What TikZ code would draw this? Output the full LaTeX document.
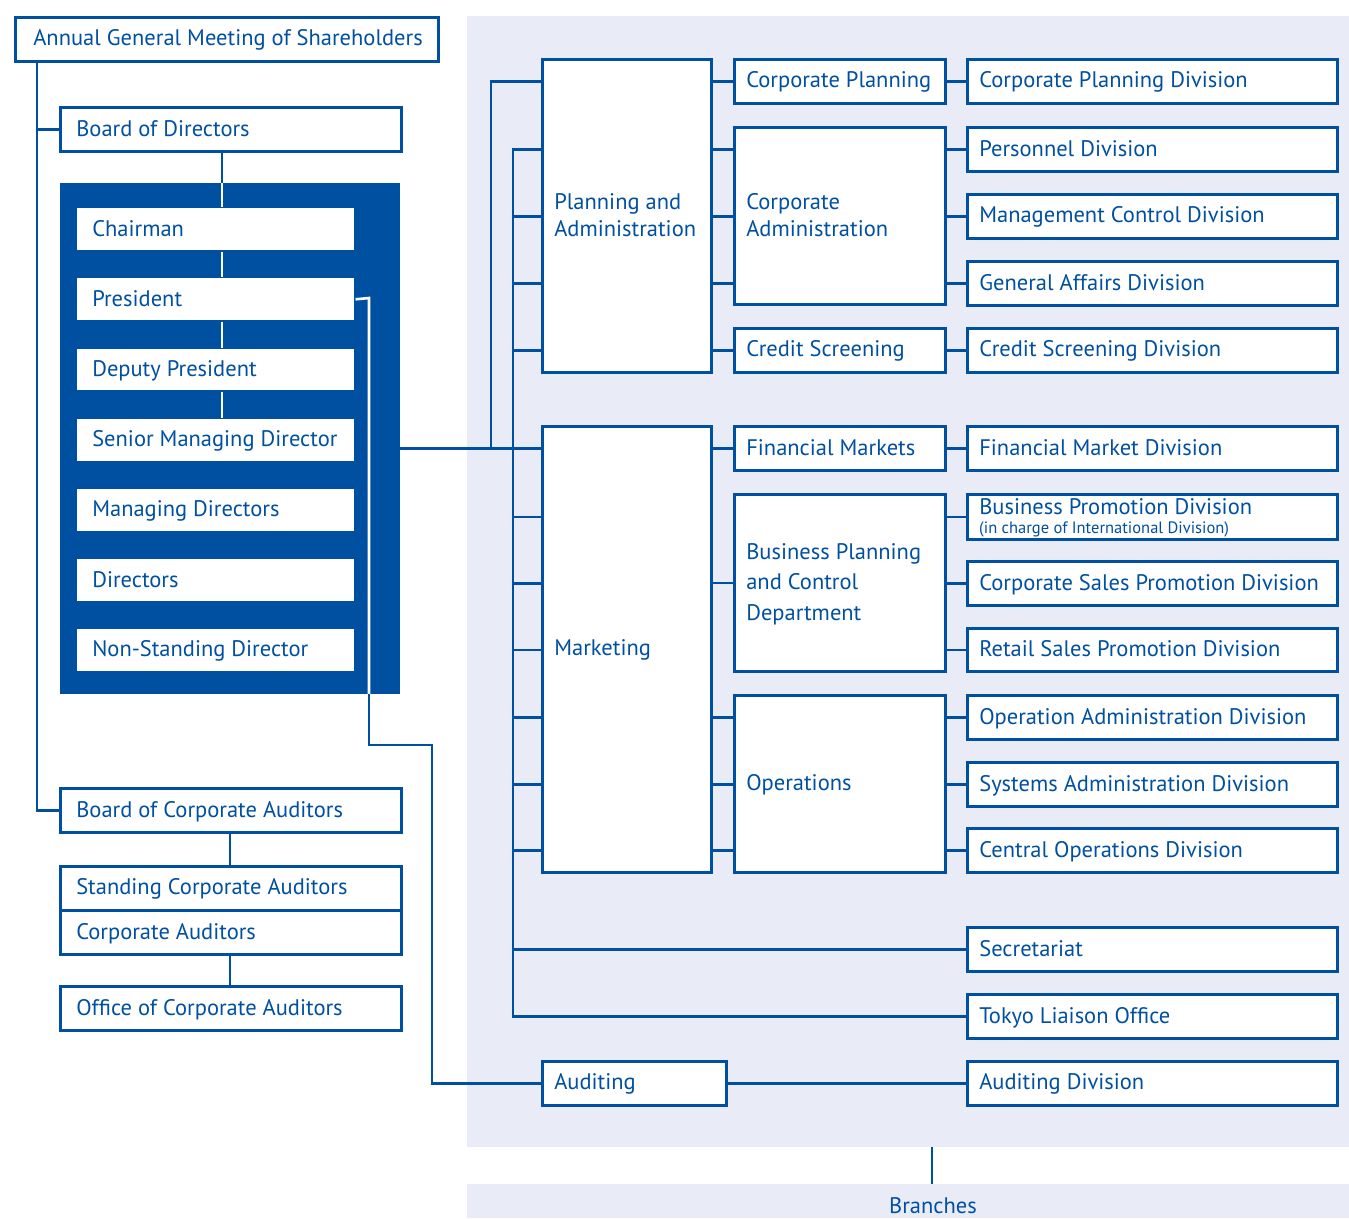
\documentclass[tikz,border=0pt]{standalone}
\usepackage{fontspec}
\setmainfont{PT Sans}
\definecolor{cblue}{RGB}{0,80,162}
\definecolor{cbg}{RGB}{233,236,247}
\newcommand\mystrut{\rule[-4pt]{0pt}{22pt}}
\newcommand\mybox[7]{%
  \pgfmathsetmacro\bw{#5-#3}\pgfmathsetmacro\bh{#6-#4}\pgfmathsetmacro\tw{#5-#3-24}%
  \node[#1, minimum width=\bw pt, minimum height=\bh pt, text width=\tw pt] (#2) at (#3,#4) {#7};}
\begin{document}
\begin{tikzpicture}[x=1pt,y=-1pt,
  ln/.style={draw=cblue, line width=2.6pt},
  wl/.style={draw=white, line width=2.6pt},
  box/.style={draw=cblue, fill=white, line width=2.6pt, anchor=north west,
    inner xsep=12pt, inner ysep=0pt, text=cblue, align=left,
    font=\fontsize{22.5}{27}\selectfont,
    execute at begin node={\spaceskip=0pt\xspaceskip=0pt\mystrut}, execute at end node=\mystrut},
  lbox/.style={box, execute at begin node={\hspace*{#1}}},
  ibox/.style={box, draw=none, execute at begin node={\hspace*{3pt}}},
]
\useasboundingbox (0,0) rectangle (1349,1218);
\fill[cbg] (467,16) rectangle (1349,1147);
\fill[cbg] (467,1184) rectangle (1349,1218);

% left side
\mybox{lbox=6pt}{agm}{14}{16}{437}{60}{\mbox{Annual General Meeting of Shareholders}}
\mybox{lbox=4pt}{bod}{59}{106}{400}{150}{\mbox{Board of Directors}}
\node[fill=cblue, anchor=north west, minimum width=340pt, minimum height=511pt, inner sep=0pt] (dark) at (60,183) {};
\mybox{ibox}{chair}{76}{207}{353}{249}{\mbox{Chairman}}
\mybox{ibox}{pres}{76}{277}{353}{319}{\mbox{President}}
\mybox{ibox}{dep}{76}{348}{353}{389}{\mbox{Deputy President}}
\mybox{ibox}{smd}{76}{418}{353}{460}{\mbox{Senior Managing Director}}
\mybox{ibox}{md}{76}{488}{353}{530}{\mbox{Managing Directors}}
\mybox{ibox}{dirs}{76}{558}{353}{600}{\mbox{Directors}}
\mybox{ibox}{nsd}{76}{628}{353}{670}{\mbox{Non-Standing Director}}
\mybox{lbox=4pt}{bca}{59}{787}{400}{831}{\mbox{Board of Corporate Auditors}}
\mybox{lbox=4pt}{sca}{59}{865}{400}{909}{\mbox{Standing Corporate Auditors}}
\mybox{lbox=4pt}{ca}{59}{909}{400}{953}{\mbox{Corporate Auditors}}
\mybox{lbox=4pt}{oca}{59}{985}{400}{1029}{\mbox{Office of Corporate Auditors}}

% middle and right
\mybox{box}{pa}{541}{58}{710}{371}{\mbox{Planning and}\\\mbox{Administration}}
\mybox{box}{mkt}{541}{425}{710}{871}{\mbox{Marketing}}
\mybox{box}{aud}{541}{1060}{725}{1104}{\mbox{Auditing}}
\mybox{box}{cp}{733}{58}{944}{102}{\mbox{Corporate Planning}}
\mybox{box}{cadm}{733}{126}{944}{303}{\mbox{Corporate}\\\mbox{Administration}}
\mybox{box}{cs}{733}{327}{944}{371}{\mbox{Credit Screening}}
\mybox{box}{fm}{733}{425}{944}{469}{\mbox{Financial Markets}}
\mybox{box, font=\fontsize{22.5}{30.5}\selectfont}{bpc}{733}{493}{944}{670}{\mbox{Business Planning}\\\mbox{and Control}\\\mbox{Department}}
\mybox{box}{ops}{733}{694}{944}{871}{\mbox{Operations}}

\mybox{box}{cpd}{966}{58}{1336}{102}{\mbox{Corporate Planning Division}}
\mybox{box}{pd}{966}{126}{1336}{170}{\mbox{Personnel Division}}
\mybox{box}{mcd}{966}{193}{1336}{237}{\mbox{Management Control Division}}
\mybox{box}{gad}{966}{260}{1336}{304}{\mbox{General Affairs Division}}
\mybox{box}{csd}{966}{327}{1336}{371}{\mbox{Credit Screening Division}}
\mybox{box}{fmd}{966}{425}{1336}{469}{\mbox{Financial Market Division}}
\mybox{box, execute at begin node={\rule[-23pt]{0pt}{18pt}}}{bpd}{966}{493}{1336}{538}{\mbox{Business Promotion Division}}
\node[text=cblue, font=\fontsize{16.5}{17}\selectfont, anchor=base west, inner sep=0pt] (bpdn) at (979,533.5) {(in charge of International Division)};
\mybox{box}{csp}{966}{560}{1336}{604}{\mbox{Corporate Sales Promotion Division}}
\mybox{box}{rsp}{966}{627}{1336}{670}{\mbox{Retail Sales Promotion Division}}
\mybox{box}{oad}{966}{694}{1336}{738}{\mbox{Operation Administration Division}}
\mybox{box}{sad}{966}{761}{1336}{805}{\mbox{Systems Administration Division}}
\mybox{box}{cod}{966}{827}{1336}{871}{\mbox{Central Operations Division}}
\mybox{box}{sec}{966}{926}{1336}{970}{\mbox{Secretariat}}
\mybox{box}{tlo}{966}{993}{1336}{1037}{\mbox{Tokyo Liaison Office}}
\mybox{box}{audd}{966}{1060}{1336}{1104}{\mbox{Auditing Division}}

\node[text=cblue, font=\fontsize{22.5}{27}\selectfont, anchor=base] (br) at (933,1213) {Branches};

% left connectors
\coordinate (L0) at (37,60);
\draw[ln] (L0) |- (bca.west);
\draw[ln] (L0 |- bod.west) -- (bod.west);
\coordinate (X0) at (222,150);
\draw[ln] (X0) -- (X0 |- dark.north);
\draw[wl] (X0 |- dark.north) -- (X0 |- chair.north);
\draw[wl] (X0 |- chair.south) -- (X0 |- pres.north);
\draw[wl] (X0 |- pres.south) -- (X0 |- dep.north);
\draw[wl] (X0 |- dep.south) -- (X0 |- smd.north);
\coordinate (P1) at (369,298);
\coordinate (P2) at (369,745);
\coordinate (P3) at (432,745);
\draw[wl] (pres.east) -- (P1) -- (P1 |- dark.south);
\draw[ln] (P1 |- dark.south) -- (P2) -- (P3) |- (aud.west);
\draw[ln] (bca.south -| 230,0) -- (sca.north -| 230,0);
\draw[ln] (ca.south -| 230,0) -- (oca.north -| 230,0);

% main spines
\draw[ln] (dark.east |- fm.center) -- (mkt.west |- fm.center);
\coordinate (S1) at (491,447);
\draw[ln] (S1) |- (pa.west |- cp.center);
\coordinate (S2) at (513,148);
\draw[ln] (S2) |- (tlo.west);
\draw[ln] (S2 |- sec.west) -- (sec.west);
\foreach \t in {pd,mcd,gad,csd}{\draw[ln] (S2 |- \t.west) -- (pa.west |- \t.west);}
\foreach \t in {bpd,csp,rsp,oad,sad,cod}{\draw[ln] (S2 |- \t.west) -- (mkt.west |- \t.west);}

% right connectors
\draw[ln] (pa.east |- cp.west) -- (cp.west);
\draw[ln] (cp.east) -- (cpd.west);
\foreach \t in {pd,mcd,gad}{\draw[ln] (pa.east |- \t.west) -- (cadm.west |- \t.west); \draw[ln] (cadm.east |- \t.west) -- (\t.west);}
\draw[ln] (pa.east |- cs.west) -- (cs.west);
\draw[ln] (cs.east) -- (csd.west);
\draw[ln] (mkt.east |- fm.west) -- (fm.west);
\draw[ln] (fm.east) -- (fmd.west);
\draw[ln] (mkt.east |- bpc.west) -- (bpc.west);
\foreach \t in {bpd,csp,rsp}{\draw[ln] (bpc.east |- \t.west) -- (\t.west);}
\foreach \t in {oad,sad,cod}{\draw[ln] (mkt.east |- \t.west) -- (ops.west |- \t.west); \draw[ln] (ops.east |- \t.west) -- (\t.west);}
\draw[ln] (aud.east) -- (audd.west);
\coordinate (B0) at (932,1147);
\draw[draw=cblue, line width=1.5pt] (B0) -- (B0 |- 0,1184);
\end{tikzpicture}
\end{document}
